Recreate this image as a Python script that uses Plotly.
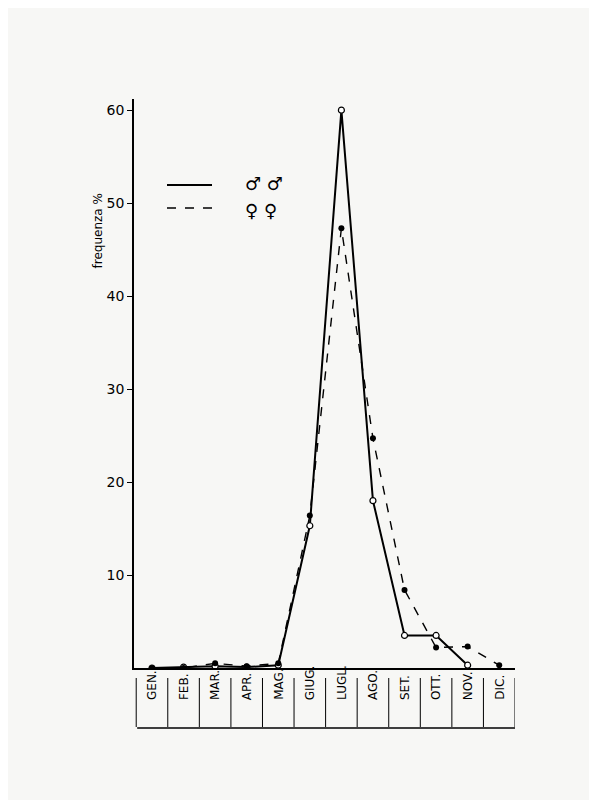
import plotly.graph_objects as go

# month labels and monthly frequency (%)
months = ["GEN.", "FEB.", "MAR.", "APR.", "MAG.", "GIUG.", "LUGL.", "AGO.", "SET.", "OTT.", "NOV.", "DIC."]
males = [0.0, 0.1, 0.2, 0.1, 0.3, 15.3, 60.0, 18.0, 3.5, 3.5, 0.3, None]
females = [0.0, 0.0, 0.5, 0.2, 0.5, 16.4, 47.3, 24.7, 8.4, 2.2, 2.3, 0.3]
y_ticks = [10, 20, 30, 40, 50, 60]

W, H = 597, 800
OFF = 8  # page body margin
L, R, T, B = 134 - OFF, 82 + OFF, 99 - OFF, 132 + OFF
pw, ph = W - L - R, H - T - B

def px(x):
    return (x - OFF - L) / pw

def py(y):
    return (H - B - (y - OFF)) / ph

xs = list(range(len(months)))
fig = go.Figure()

fig.add_trace(go.Scatter(x=xs, y=males, mode="lines+markers",
                         line=dict(color="black", width=2),
                         marker=dict(symbol="circle", size=6, color="white", line=dict(color="black", width=1.2)),
                         showlegend=False))
fig.add_trace(go.Scatter(x=xs, y=females, mode="lines+markers",
                         line=dict(color="black", width=1.4, dash="dash"),
                         marker=dict(symbol="circle", size=6, color="black"),
                         showlegend=False))

# month table under the axis
shapes = []
for i in range(len(months) + 1):
    shapes.append(dict(type="line", xref="x", yref="paper", x0=i - 0.5, x1=i - 0.5,
                       y0=py(678), y1=py(727), line=dict(color="black", width=1)))
shapes.append(dict(type="line", xref="x", yref="paper", x0=-0.47, x1=11.5,
                   y0=py(728), y1=py(728), line=dict(color="black", width=1.3)))
# legend lines
shapes.append(dict(type="line", xref="paper", yref="paper", x0=px(167), x1=px(212),
                   y0=py(185), y1=py(185), line=dict(color="black", width=2)))
shapes.append(dict(type="line", xref="paper", yref="paper", x0=px(167), x1=px(212),
                   y0=py(208), y1=py(208), line=dict(color="black", width=1.4, dash="dash")))

annotations = []
for i, m in enumerate(months):
    annotations.append(dict(x=i, y=py(702), xref="x", yref="paper", text=m, textangle=-90,
                            showarrow=False, font=dict(size=12, color="black", family="DejaVu Sans")))
annotations.append(dict(x=px(243), y=py(171), xref="paper", yref="paper", text="♂ ♂",
                        showarrow=False, font=dict(size=18, color="black", family="DejaVu Sans")))
annotations.append(dict(x=px(243), y=py(198), xref="paper", yref="paper", text="♀ ♀",
                        showarrow=False, font=dict(size=18, color="black", family="DejaVu Sans")))
annotations.append(dict(x=px(88), y=py(192), xref="paper", yref="paper", text="frequenza %",
                        textangle=-90, showarrow=False, font=dict(size=12, color="black", family="DejaVu Sans")))

fig.update_layout(
    width=W, height=H, margin=dict(l=L, r=R, t=T, b=B),
    paper_bgcolor="#f7f7f5", plot_bgcolor="#f7f7f5",
    shapes=shapes, annotations=annotations,
    xaxis=dict(range=[-0.57, 11.5], showticklabels=False, showgrid=False, zeroline=False,
               showline=True, linecolor="black", linewidth=1.5, ticks=""),
    yaxis=dict(range=[0, 61.2], tickvals=y_ticks, showgrid=False, zeroline=False,
               showline=True, linecolor="black", linewidth=1.5, ticks="outside", ticklen=5,
               tickcolor="black", tickfont=dict(size=14, color="black", family="DejaVu Sans")),
)

fig.write_html("out.html")
